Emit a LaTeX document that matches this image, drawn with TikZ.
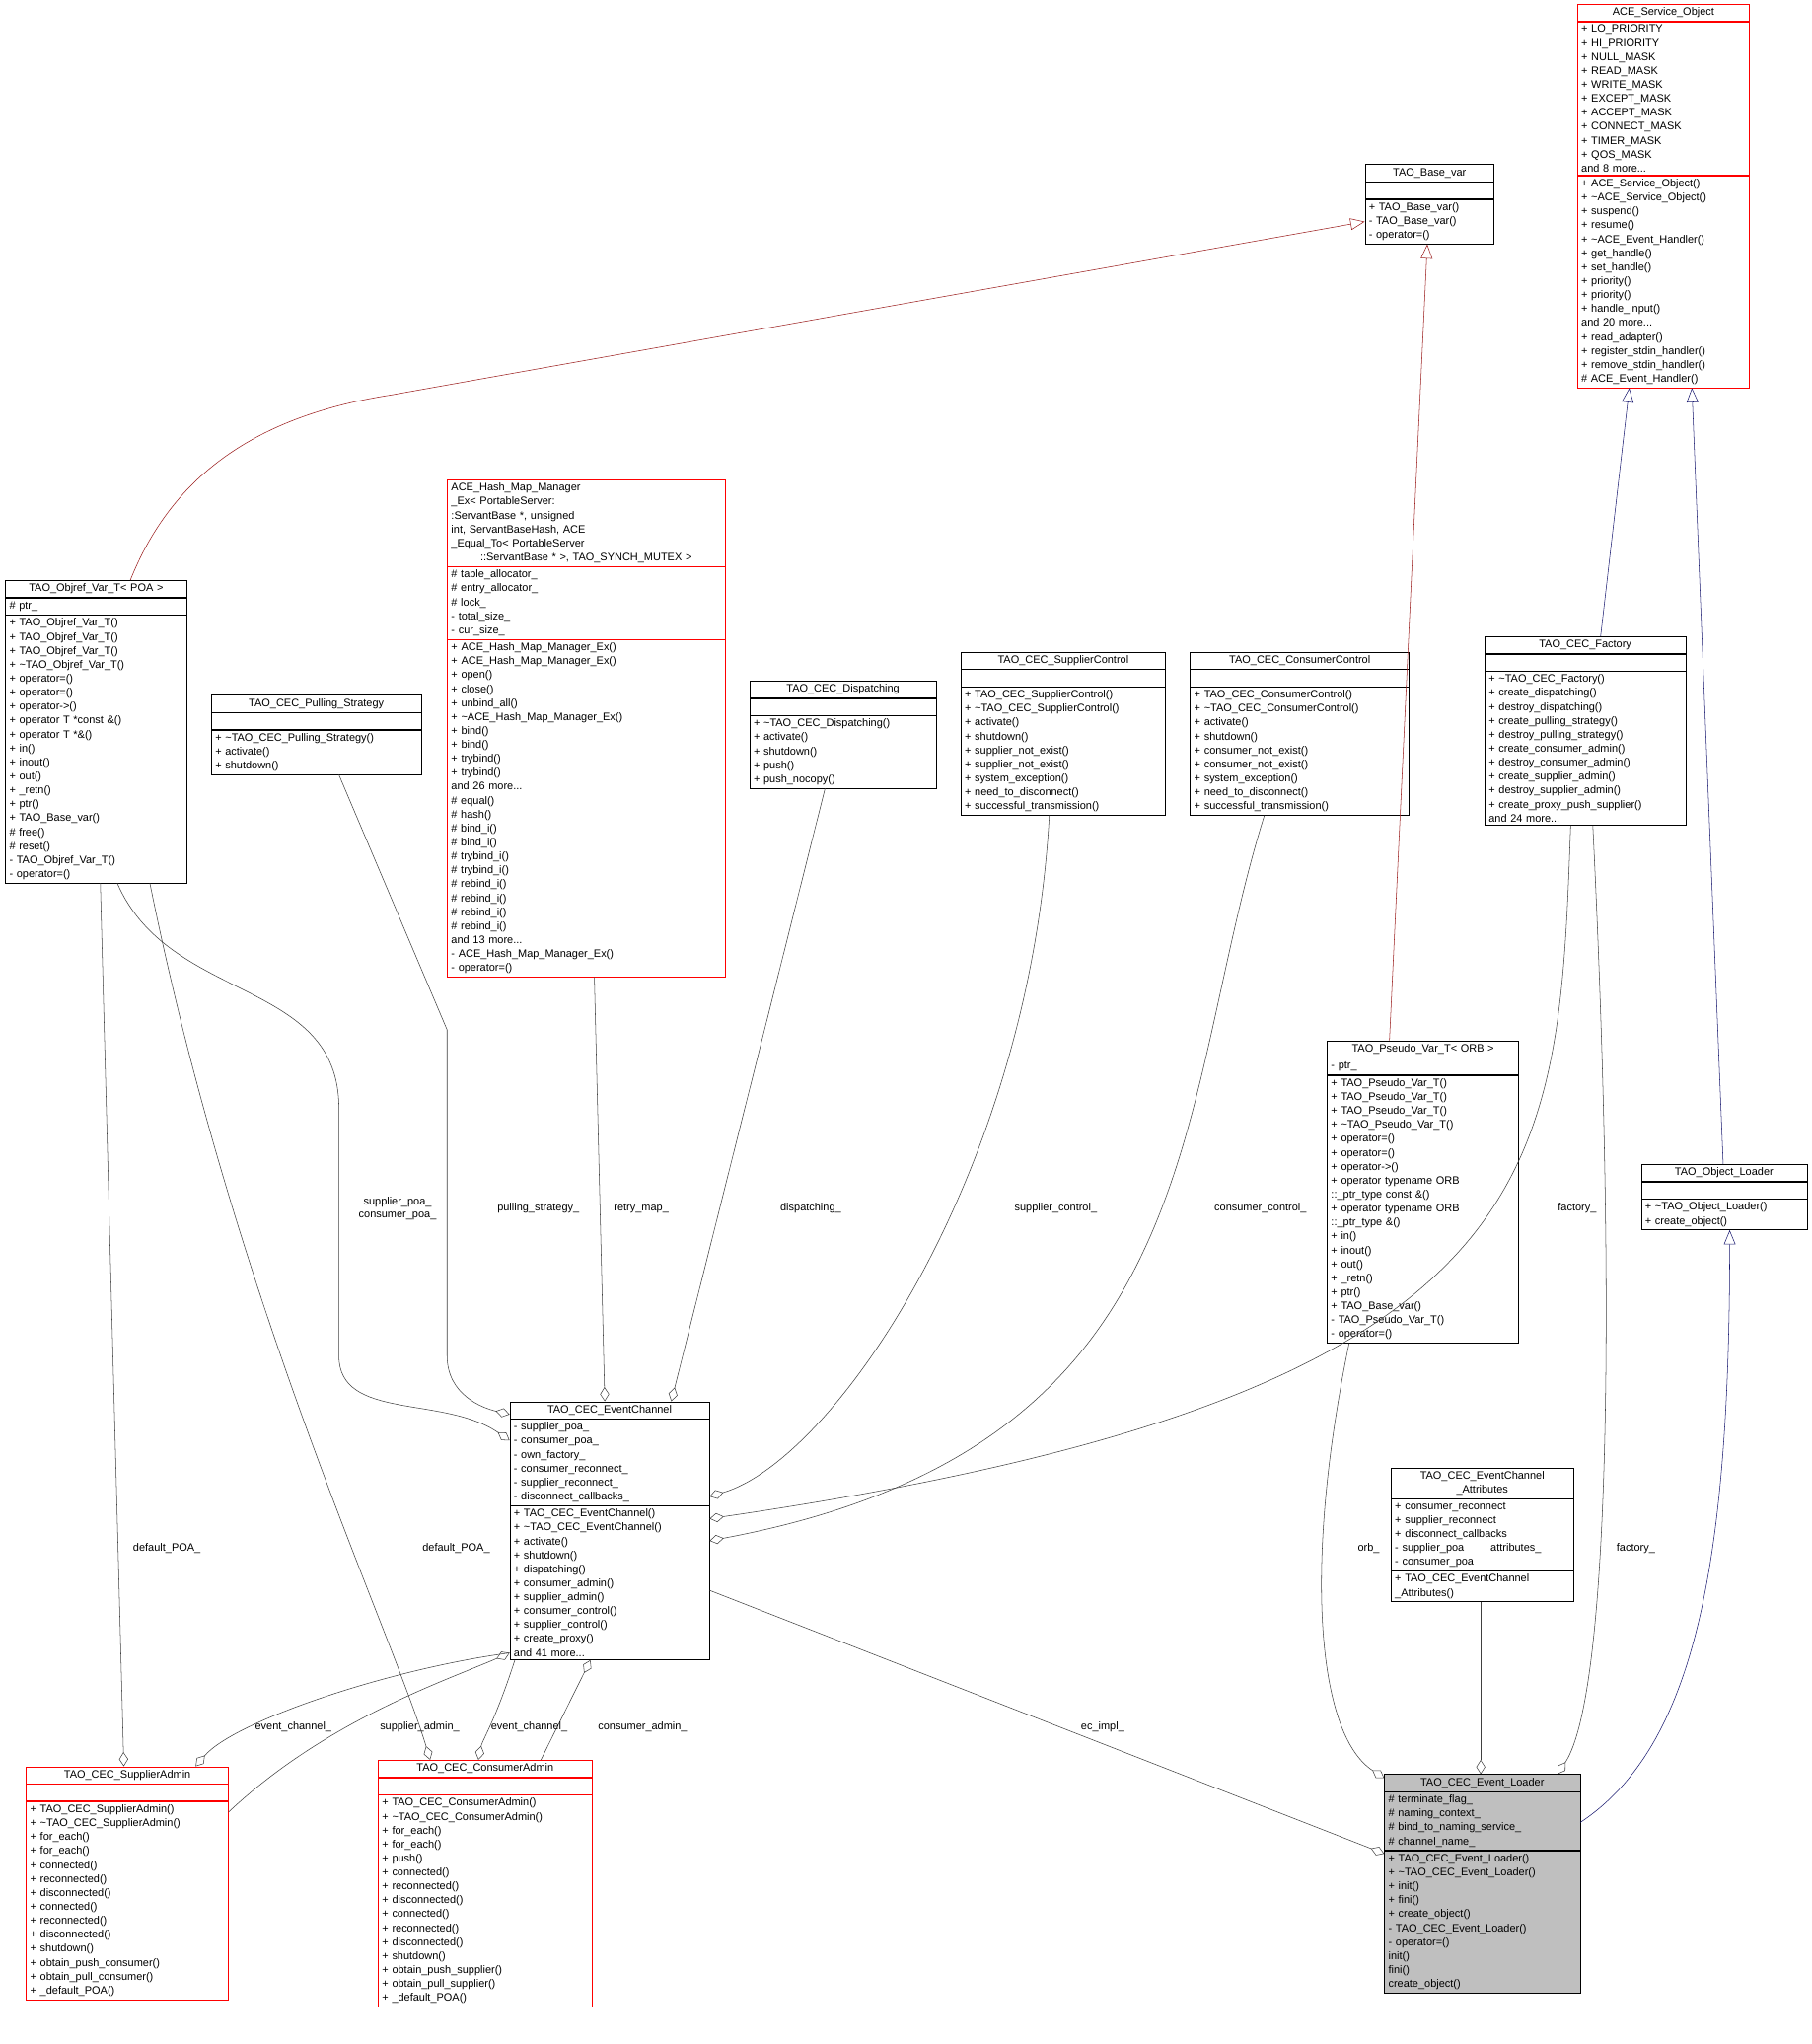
\documentclass[tikz,border=0pt]{standalone}
\usepackage{fontspec}
\setmainfont{Liberation Sans}
\usetikzlibrary{arrows.meta}
\definecolor{eg}{HTML}{404040}
\definecolor{dr}{HTML}{9B1C1C}
\definecolor{nv}{HTML}{191970}
\tikzset{
 part/.style={draw,anchor=north,inner xsep=3pt,inner ysep=2.5pt,minimum height=13pt,font=\fontsize{8.3}{10.7}\selectfont},
 agg/.style={draw=eg,-{Diamond[open,length=11pt,width=7pt]}},
 inh/.style={-{Triangle[open,length=11pt,width=9pt]}},
 lbl/.style={font=\fontsize{8.3}{10}\selectfont,align=center,inner sep=1pt}
}
\newcommand\ubox[9]{%
 \pgfmathsetmacro\tw{#4-6}%
 \node[part,anchor=north west,text width=\tw pt,align=center,#9] (#1t) at (#2,-#3) {#6};
 \node[part,text width=\tw pt,align=left,#9] (#1a) at (#1t.south) {#7};
 \node[part,text width=\tw pt,align=left,#9] (#1m) at (#1a.south) {#8};
 \path (#1t.north west) coordinate (#1nw) (#1m.south east) coordinate (#1se);
 \node[inner sep=0,minimum width=#4pt,anchor=north west] (#1) at (#1t.north west) {};
 \node[inner sep=0,minimum width=#4pt,anchor=south west] (#1b) at (#1m.south west) {};
}
\begin{document}
\begin{tikzpicture}[x=1pt,y=1pt]
\useasboundingbox (0,0) rectangle (1390,-1568);
\fill[white] (0,0) rectangle (1390,-1568);
% boxes
\ubox{aso}{1210}{3}{132}{red}{ACE\_Service\_Object}
{+ LO\_PRIORITY\\+ HI\_PRIORITY\\+ NULL\_MASK\\+ READ\_MASK\\+ WRITE\_MASK\\+ EXCEPT\_MASK\\+ ACCEPT\_MASK\\+ CONNECT\_MASK\\+ TIMER\_MASK\\+ QOS\_MASK\\and 8 more...}
{+ ACE\_Service\_Object()\\+ \textasciitilde ACE\_Service\_Object()\\+ suspend()\\+ resume()\\+ \textasciitilde ACE\_Event\_Handler()\\+ get\_handle()\\+ set\_handle()\\+ priority()\\+ priority()\\+ handle\_input()\\and 20 more...\\+ read\_adapter()\\+ register\_stdin\_handler()\\+ remove\_stdin\_handler()\\\# ACE\_Event\_Handler()}{draw=red}
\ubox{bv}{1047}{126}{99}{black}{TAO\_Base\_var}{}
{+ TAO\_Base\_var()\\- TAO\_Base\_var()\\- operator=()}{}
\ubox{obj}{4}{445}{139}{black}{TAO\_Objref\_Var\_T< POA >}{\# ptr\_}
{+ TAO\_Objref\_Var\_T()\\+ TAO\_Objref\_Var\_T()\\+ TAO\_Objref\_Var\_T()\\+ \textasciitilde TAO\_Objref\_Var\_T()\\+ operator=()\\+ operator=()\\+ operator->()\\+ operator T *const \&()\\+ operator T *\&()\\+ in()\\+ inout()\\+ out()\\+ \_retn()\\+ ptr()\\+ TAO\_Base\_var()\\\# free()\\\# reset()\\- TAO\_Objref\_Var\_T()\\- operator=()}{}
\ubox{hash}{343}{368}{213}{red}{\raggedright ACE\_Hash\_Map\_Manager\\\_Ex< PortableServer:\\:ServantBase *, unsigned\\ int, ServantBaseHash, ACE\\\_Equal\_To< PortableServer\\::ServantBase * >, TAO\_SYNCH\_MUTEX >}
{\# table\_allocator\_\\\# entry\_allocator\_\\\# lock\_\\- total\_size\_\\- cur\_size\_}
{+ ACE\_Hash\_Map\_Manager\_Ex()\\+ ACE\_Hash\_Map\_Manager\_Ex()\\+ open()\\+ close()\\+ unbind\_all()\\+ \textasciitilde ACE\_Hash\_Map\_Manager\_Ex()\\+ bind()\\+ bind()\\+ trybind()\\+ trybind()\\and 26 more...\\\# equal()\\\# hash()\\\# bind\_i()\\\# bind\_i()\\\# trybind\_i()\\\# trybind\_i()\\\# rebind\_i()\\\# rebind\_i()\\\# rebind\_i()\\\# rebind\_i()\\and 13 more...\\- ACE\_Hash\_Map\_Manager\_Ex()\\- operator=()}{draw=red}
\ubox{pull}{162}{533}{161}{black}{TAO\_CEC\_Pulling\_Strategy}{}
{+ \textasciitilde TAO\_CEC\_Pulling\_Strategy()\\+ activate()\\+ shutdown()}{}
\ubox{disp}{575}{522}{143}{black}{TAO\_CEC\_Dispatching}{}
{+ \textasciitilde TAO\_CEC\_Dispatching()\\+ activate()\\+ shutdown()\\+ push()\\+ push\_nocopy()}{}
\ubox{sc}{737}{500}{157}{black}{TAO\_CEC\_SupplierControl}{}
{+ TAO\_CEC\_SupplierControl()\\+ \textasciitilde TAO\_CEC\_SupplierControl()\\+ activate()\\+ shutdown()\\+ supplier\_not\_exist()\\+ supplier\_not\_exist()\\+ system\_exception()\\+ need\_to\_disconnect()\\+ successful\_transmission()}{}
\ubox{cc}{913}{500}{168}{black}{TAO\_CEC\_ConsumerControl}{}
{+ TAO\_CEC\_ConsumerControl()\\+ \textasciitilde TAO\_CEC\_ConsumerControl()\\+ activate()\\+ shutdown()\\+ consumer\_not\_exist()\\+ consumer\_not\_exist()\\+ system\_exception()\\+ need\_to\_disconnect()\\+ successful\_transmission()}{}
\ubox{fac}{1139}{488}{154}{black}{TAO\_CEC\_Factory}{}
{+ \textasciitilde TAO\_CEC\_Factory()\\+ create\_dispatching()\\+ destroy\_dispatching()\\+ create\_pulling\_strategy()\\+ destroy\_pulling\_strategy()\\+ create\_consumer\_admin()\\+ destroy\_consumer\_admin()\\+ create\_supplier\_admin()\\+ destroy\_supplier\_admin()\\+ create\_proxy\_push\_supplier()\\and 24 more...}{}
\ubox{pseudo}{1018}{798}{147}{black}{TAO\_Pseudo\_Var\_T< ORB >}{- ptr\_}
{+ TAO\_Pseudo\_Var\_T()\\+ TAO\_Pseudo\_Var\_T()\\+ TAO\_Pseudo\_Var\_T()\\+ \textasciitilde TAO\_Pseudo\_Var\_T()\\+ operator=()\\+ operator=()\\+ operator->()\\+ operator typename ORB\\::\_ptr\_type const \&()\\+ operator typename ORB\\::\_ptr\_type \&()\\+ in()\\+ inout()\\+ out()\\+ \_retn()\\+ ptr()\\+ TAO\_Base\_var()\\- TAO\_Pseudo\_Var\_T()\\- operator=()}{}
\ubox{ol}{1259}{893}{127}{black}{TAO\_Object\_Loader}{}
{+ \textasciitilde TAO\_Object\_Loader()\\+ create\_object()}{}
\ubox{ec}{391}{1075}{153}{black}{TAO\_CEC\_EventChannel}
{- supplier\_poa\_\\- consumer\_poa\_\\- own\_factory\_\\- consumer\_reconnect\_\\- supplier\_reconnect\_\\- disconnect\_callbacks\_}
{+ TAO\_CEC\_EventChannel()\\+ \textasciitilde TAO\_CEC\_EventChannel()\\+ activate()\\+ shutdown()\\+ dispatching()\\+ consumer\_admin()\\+ supplier\_admin()\\+ consumer\_control()\\+ supplier\_control()\\+ create\_proxy()\\and 41 more...}{}
\ubox{attr}{1067}{1126}{140}{black}{TAO\_CEC\_EventChannel\\\_Attributes}
{+ consumer\_reconnect\\+ supplier\_reconnect\\+ disconnect\_callbacks\\- supplier\_poa\\- consumer\_poa}
{+ TAO\_CEC\_EventChannel\\\_Attributes()}{}
\ubox{sa}{20}{1355}{155}{red}{TAO\_CEC\_SupplierAdmin}{}
{+ TAO\_CEC\_SupplierAdmin()\\+ \textasciitilde TAO\_CEC\_SupplierAdmin()\\+ for\_each()\\+ for\_each()\\+ connected()\\+ reconnected()\\+ disconnected()\\+ connected()\\+ reconnected()\\+ disconnected()\\+ shutdown()\\+ obtain\_push\_consumer()\\+ obtain\_pull\_consumer()\\+ \_default\_POA()}{draw=red}
\ubox{ca}{290}{1350}{164}{red}{TAO\_CEC\_ConsumerAdmin}{}
{+ TAO\_CEC\_ConsumerAdmin()\\+ \textasciitilde TAO\_CEC\_ConsumerAdmin()\\+ for\_each()\\+ for\_each()\\+ push()\\+ connected()\\+ reconnected()\\+ disconnected()\\+ connected()\\+ reconnected()\\+ disconnected()\\+ shutdown()\\+ obtain\_push\_supplier()\\+ obtain\_pull\_supplier()\\+ \_default\_POA()}{draw=red}
\ubox{el}{1062}{1361}{150}{black}{TAO\_CEC\_Event\_Loader}
{\# terminate\_flag\_\\\# naming\_context\_\\\# bind\_to\_naming\_service\_\\\# channel\_name\_}
{+ TAO\_CEC\_Event\_Loader()\\+ \textasciitilde TAO\_CEC\_Event\_Loader()\\+ init()\\+ fini()\\+ create\_object()\\- TAO\_CEC\_Event\_Loader()\\- operator=()\\* init()\\* fini()\\* create\_object()}{fill=black!25}
% inheritance
\draw[inh,dr] ([xshift=96]obj.north west) .. controls (130,-370) and (190,-320) .. (300,-303) -- ([yshift=-44]bv.north west);
\draw[inh,dr] ([xshift=48]pseudo.north west) -- ([xshift=48]bvb.south west);
\draw[inh,nv] ([xshift=89]fac.north west) -- ([xshift=40]asob.south west);
\draw[inh,nv] ([xshift=63]ol.north west) -- ([xshift=88]asob.south west);
\draw[inh,nv] ([yshift=-37]el.north east) .. controls (1300,-1340) and (1327,-1200) .. ([xshift=68]olb.south west);
% aggregation
\draw[agg] ([xshift=86]objb.south west) .. controls (130,-770) and (260,-750) .. (260,-850) -- (260,-1040) .. controls (260,-1090) and (340,-1070) .. ([yshift=-30]ec.north west);
\draw[agg] ([xshift=98]pullb.south west) -- (343,-790) -- (343,-1040) .. controls (343,-1070) and (370,-1080) .. ([yshift=-10]ec.north west);
\draw[agg] ([xshift=113]hashb.south west) -- ([xshift=73]ec.north west);
\draw[agg] ([xshift=58]dispb.south west) -- ([xshift=124]ec.north west);
\draw[agg] ([xshift=68]scb.south west) .. controls (790,-900) and (640,-1120) .. ([yshift=-73]ec.north east);
\draw[agg] ([xshift=66]facb.south west) .. controls (1195,-900) and (1195,-1070) .. ([yshift=-90]ec.north east);
\draw[agg] ([xshift=57]ccb.south west) .. controls (900,-850) and (930,-1110) .. ([yshift=-107]ec.north east);
\draw[agg] ([xshift=83]facb.south west) .. controls (1240,-1000) and (1235,-1300) .. ([xshift=133]el.north west);
\draw[agg] ([xshift=17]pseudob.south west) .. controls (1000,-1200) and (1010,-1330) .. ([yshift=-3]el.north west);
\draw[agg] ([xshift=69]attrb.south west) -- ([xshift=74]el.north west);
\draw[agg] ([yshift=-145]ec.north east) -- ([yshift=-61]el.north west);
\draw[agg] ([xshift=73]objb.south west) -- ([xshift=75]sa.north west);
\draw[agg] ([xshift=111]objb.south west) .. controls (180,-1000) and (300,-1250) .. ([xshift=40]ca.north west);
\draw[agg] ([yshift=-193]ec.north west) .. controls (300,-1280) and (180,-1320) .. ([xshift=130]sa.north west);
\draw[agg] ([yshift=-35]sa.north east) .. controls (250,-1320) and (340,-1290) .. ([yshift=-193]ec.north west);
\draw[agg] ([xshift=4]ecb.south west) .. controls (380,-1320) and (370,-1335) .. ([xshift=77]ca.north west);
\draw[agg] ([xshift=125]ca.north west) -- ([xshift=62]ecb.south west);
% labels
\node[lbl] (l1) at (305,-927) {supplier\_poa\_\\consumer\_poa\_};
\node[lbl] (l2) at (413,-927) {pulling\_strategy\_};
\node[lbl] (l3) at (492,-927) {retry\_map\_};
\node[lbl] (l4) at (622,-927) {dispatching\_};
\node[lbl] (l5) at (810,-927) {supplier\_control\_};
\node[lbl] (l6) at (967,-927) {consumer\_control\_};
\node[lbl] (l7) at (1210,-927) {factory\_};
\node[lbl] (l8) at (1255,-1188) {factory\_};
\node[lbl] (l9) at (1050,-1188) {orb\_};
\node[lbl] (l10) at (1163,-1188) {attributes\_};
\node[lbl] (l11) at (846,-1325) {ec\_impl\_};
\node[lbl] (l12) at (128,-1188) {default\_POA\_};
\node[lbl] (l13) at (350,-1188) {default\_POA\_};
\node[lbl] (l14) at (225,-1325) {event\_channel\_};
\node[lbl] (l15) at (322,-1325) {supplier\_admin\_};
\node[lbl] (l16) at (406,-1325) {event\_channel\_};
\node[lbl] (l17) at (493,-1325) {consumer\_admin\_};
\end{tikzpicture}
\end{document}
